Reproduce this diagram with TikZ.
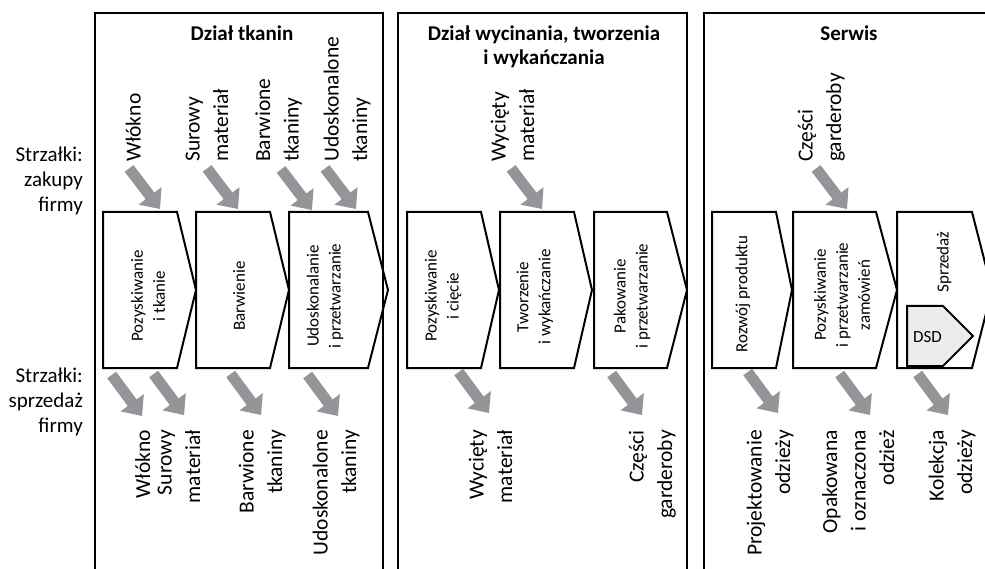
\documentclass[tikz,border=0pt]{standalone}
\usepackage{fontspec}
\setmainfont{Carlito}
\definecolor{arrowgray}{RGB}{147,149,152}
\definecolor{dsdgray}{RGB}{236,236,236}
\tikzset{
  panelline/.style={line width=2pt, black, line join=miter},
  stage/.style={line width=2pt, black, line join=miter},
  steptext/.style={rotate=90, align=center, inner sep=0pt,
    font=\fontsize{17}{22}\selectfont},
  flowlabel/.style={rotate=90, inner sep=0pt,
    font=\fontsize{21.5}{28.5}\selectfont},
  inlabel/.style={flowlabel, align=left, anchor=base west},
  outlabel/.style={flowlabel, align=right, anchor=base east},
  sidelabel/.style={align=right, anchor=base east, inner sep=0pt,
    font=\fontsize{21}{25}\selectfont},
  depttitle/.style={align=center, anchor=base, inner sep=0pt,
    font=\fontsize{21}{24.5}\selectfont\bfseries},
  pics/flowarrow/.style={code={
    \fill[arrowgray] (0,0) -- (-16.5,-14.5) -- (-16.5,-5.5) -- (-51,-5.5)
      -- (-51,5.5) -- (-16.5,5.5) -- (-16.5,14.5) -- cycle;}}
}
% process step: left edge, right edge of the rectangle part, tip
\newcommand\stagebox[3]{%
  \draw[stage] (#1,212) -- (#2,212) -- (#3,290) -- (#2,368) -- (#1,368) -- cycle;}
\begin{document}
\begin{tikzpicture}[x=1pt,y=-1pt]
\useasboundingbox (0,0) rectangle (985,569);
\clip (0,0) rectangle (985,569);

% department panels (open at the bottom)
\draw[panelline] (95,575) -- (95,13) -- (383,13) -- (383,575);
\draw[panelline] (398,575) -- (398,13) -- (687,13) -- (687,575);
\draw[panelline] (704,575) -- (704,13) -- (995,13);

\node[depttitle] (t1) at (242,41) {Dział tkanin};
\node[depttitle] (t2) at (544,65) {Dział wycinania, tworzenia\\i wykańczania};
\node[depttitle] (t3) at (849,41) {Serwis};

% side captions
\node[sidelabel] (sideIn) at (83,212) {Strzałki:\\zakupy\\firmy};
\node[sidelabel] (sideOut) at (83,432) {Strzałki:\\sprzedaż\\firmy};

% process steps
\stagebox{103}{177}{196}
\stagebox{196}{270}{289}
\stagebox{289}{368}{388}
\stagebox{407}{481}{499}
\stagebox{500}{574}{592}
\stagebox{594}{667}{687}
\stagebox{712}{776}{792}
\stagebox{793}{876}{897}
\stagebox{897}{972}{992}

\node[steptext] (s1) at (148,296) {Pozyskiwanie\\i tkanie};
\node[steptext] (s2) at (239,296) {Barwienie};
\node[steptext] (s3) at (325,296) {Udoskonalanie\\i przetwarzanie};
\node[steptext] (s4) at (443,296) {Pozyskiwanie\\i cięcie};
\node[steptext] (s5) at (535,297) {Tworzenie\\i wykańczanie};
\node[steptext] (s6) at (632,296) {Pakowanie\\i przetwarzanie};
\node[steptext] (s7) at (743,294) {Rozwój produktu};
\node[steptext] (s8) at (842,295) {Pozyskiwanie\\i przetwarzanie\\zamówień};
\node[steptext] (s9) at (944,262) {Sprzedaż};

% direct store delivery tag inside the sales step
\draw[stage, fill=dsdgray] (907,306) -- (943,306) -- (973,336) -- (943,366) -- (907,366) -- cycle;
\node[inner sep=0pt, font=\fontsize{17}{20}\selectfont] (dsd) at (927.5,337) {DSD};

% purchases flowing in
\coordinate (in1) at (160,209);
\coordinate (in2) at (238,209);
\coordinate (in3) at (312,210);
\coordinate (in4) at (356,209);
\coordinate (in5) at (542,209);
\coordinate (in6) at (847,209);
\foreach \c in {in1,in2,in3,in4,in5,in6}
  \pic[rotate=-52.7] at (\c) {flowarrow};

\node[inlabel] (l1) at (140.5,162) {Włókno};
\node[inlabel] (l2) at (228,162) {Surowy\\materiał};
\node[inlabel] (l3) at (298.5,162) {Barwione\\tkaniny};
\node[inlabel] (l4) at (367,162) {Udoskonalone\\tkaniny};
\node[inlabel] (l5) at (534,162) {Wycięty\\materiał};
\node[inlabel] (l6) at (841,162) {Części\\garderoby};

% sales flowing out
\coordinate (out1) at (142,416);
\coordinate (out2) at (184,415);
\coordinate (out3) at (261,415);
\coordinate (out4) at (338,416);
\coordinate (out5) at (489,413);
\coordinate (out6) at (642,415);
\coordinate (out7) at (778,413);
\coordinate (out8) at (870,415);
\coordinate (out9) at (948,415);
\foreach \c in {out1,out2,out3,out4,out5,out6,out7,out8,out9}
  \pic[rotate=-53.5] at (\c) {flowarrow};

\node[outlabel] (o1) at (150,430) {Włókno};
\node[outlabel] (o2) at (200,430) {Surowy\\materiał};
\node[outlabel] (o3) at (282,430) {Barwione\\tkaniny};
\node[outlabel] (o4) at (356,430) {Udoskonalone\\tkaniny};
\node[outlabel] (o5) at (512,430) {Wycięty\\materiał};
\node[outlabel] (o6) at (672,430) {Części\\garderoby};
\node[outlabel] (o7) at (790,430) {Projektowanie\\odzieży};
\node[outlabel] (o8) at (894,430) {Opakowana\\i oznaczona\\odzież};
\node[outlabel] (o9) at (972,430) {Kolekcja\\odzieży};
\end{tikzpicture}
\end{document}
